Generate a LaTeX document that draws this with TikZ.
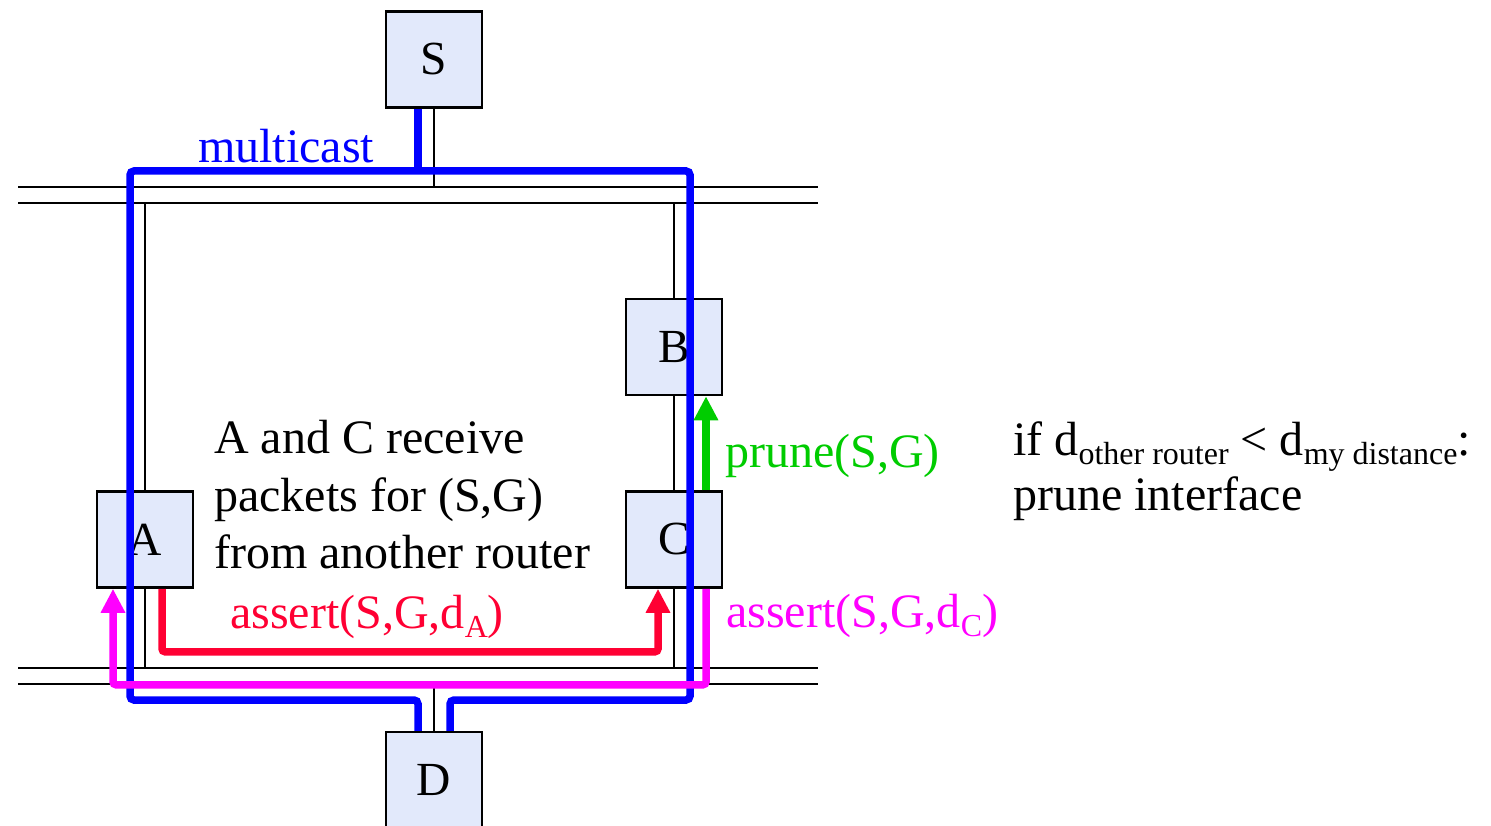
\documentclass[tikz,border=0pt]{standalone}
\usepackage{fontspec}
\setmainfont{Liberation Serif}
\usetikzlibrary{calc,arrows.meta}
\definecolor{boxfill}{HTML}{E2E9FB}
\definecolor{mred}{HTML}{FF0033}
\definecolor{mgreen}{HTML}{00CC00}
\definecolor{mmag}{HTML}{FF00FF}
\definecolor{mblue}{HTML}{0000FF}
\newcommand{\sbs}[1]{\raisebox{-9pt}{\fontsize{32}{32}\selectfont #1}}
\tikzset{
  router/.style={draw=black, line width=2.5pt, fill=boxfill, minimum width=96pt, minimum height=96pt, inner sep=0pt, font=\fontsize{47.5}{56}\selectfont},
  lan/.style={draw=black, line width=2.5pt},
  link/.style={draw=black, line width=2.5pt},
  bluepath/.style={draw=mblue, line width=7.5pt, rounded corners=4pt},
  msgarrow/.style={line width=7.5pt, rounded corners=3pt, -{Triangle[width=23pt,length=24pt]}},
  lbl/.style={anchor=base west, inner sep=0pt, font=\fontsize{48}{56}\selectfont}
}
\begin{document}
\begin{tikzpicture}[x=1pt,y=-1pt]
\useasboundingbox (0,0) rectangle (1491,826);
% LAN coordinates
\coordinate (lanT1) at (18,187);
\coordinate (lanT2) at (18,203);
\coordinate (lanB1) at (18,668);
\coordinate (lanB2) at (18,684);
\coordinate (lanT1e) at (818,187);
\coordinate (lanT2e) at (818,203);
\coordinate (lanB1e) at (818,668);
\coordinate (lanB2e) at (818,684);
\draw[lan] (lanT1) -- (lanT1e);
\draw[lan] (lanT2) -- (lanT2e);
\draw[lan] (lanB1) -- (lanB1e);
\draw[lan] (lanB2) -- (lanB2e);
% routers
\node[router] (S) at (434,59.5) {S};
\node[router] (B) at (674,347) {B};
\node[router] (A) at (145,539.5) {A};
\node[router] (C) at (674,539.5) {C};
\node[router] (D) at (434,780) {D};
% links
\draw[link] (S.south) -- (S.south |- lanT1);
\draw[link] (A.north) -- (A.north |- lanT2);
\draw[link] (A.south) -- (A.south |- lanB1);
\draw[link] (B.north) -- (B.north |- lanT2);
\draw[link] (B.south) -- (C.north);
\draw[link] (C.south) -- (C.south |- lanB1);
\draw[link] (D.north) -- (D.north |- lanB2);
% multicast blue path
\coordinate (bTL) at (130,171);
\coordinate (bBR) at (690,700);
\draw[bluepath] ($(S.south)+(-16,0)$) -- ($(S.south)+(-16,64)$);
\draw[bluepath] ($(D.north)+(-16,0)$) |- (bTL |- bBR) -- (bTL) -- (bTL -| bBR) -- (bBR) -| ($(D.north)+(16,0)$);
% messages
\draw[msgarrow, draw=mred] ($(A.south)+(17,0)$) -- ++(0,63) -| ($(C.south)+(-16,0)$);
\draw[msgarrow, draw=mmag] ($(C.south)+(32,0)$) -- ++(0,96) -| ($(A.south)+(-32,0)$);
\draw[msgarrow, draw=mgreen] ($(C.north)+(32,0)$) -- ($(B.south)+(32,0)$);
% labels
\node[lbl, text=mblue] (mc) at (198,163) {multicast};
\node[lbl] (t1) at (214,453) {A and C receive};
\node[lbl] (t2) at (214,511) {packets for (S,G)};
\node[lbl] (t3) at (214,568) {from another router};
\node[lbl, text=mgreen] (pr) at (725,467) {prune(S,G)};
\node[lbl, text=mred] (asA) at (230,628) {assert(S,G,d\sbs{A})};
\node[lbl, text=mmag] (asC) at (726,627) {assert(S,G,d\sbs{C})};
\node[lbl] (r1) at (1013,455) {if d\sbs{other router} < d\sbs{my distance}:};
\node[lbl] (r2) at (1013,510) {prune interface};
\end{tikzpicture}
\end{document}
